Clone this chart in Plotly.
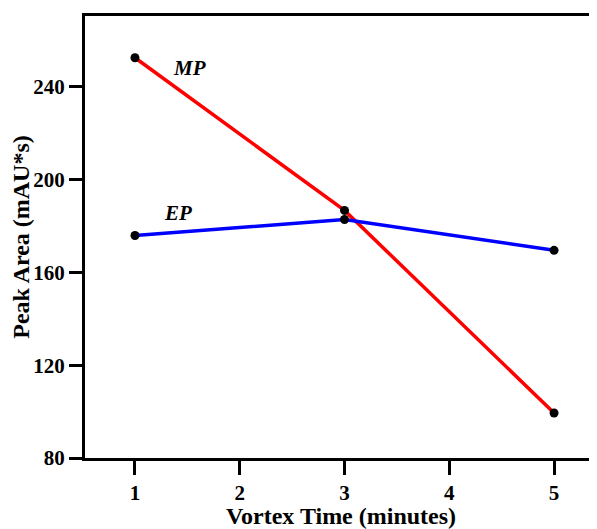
import plotly.graph_objects as go

vortex_time = [1, 3, 5]
mp_area = [252.5, 186.7, 99.4]
ep_area = [175.9, 182.8, 169.5]
x_ticks = [1, 2, 3, 4, 5]
y_ticks = [80, 120, 160, 200, 240]

FONT = "Liberation Serif"

fig = go.Figure()
fig.add_trace(go.Scatter(x=vortex_time, y=mp_area, mode="lines+markers", name="MP",
                         line=dict(color="#ff0000", width=3.5),
                         marker=dict(color="black", size=9)))
fig.add_trace(go.Scatter(x=vortex_time, y=ep_area, mode="lines+markers", name="EP",
                         line=dict(color="#0000ff", width=3.5),
                         marker=dict(color="black", size=9)))

fig.add_annotation(x=1.525, y=248, text="<b><i>MP</i></b>", showarrow=False,
                   font=dict(family=FONT, size=21, color="black"))
fig.add_annotation(x=1.41, y=185.4, text="<b><i>EP</i></b>", showarrow=False,
                   font=dict(family=FONT, size=21, color="black"))

# the page body adds an 8px margin, so the figure is offset by 8px
fig.update_layout(
    width=589, height=521,
    margin=dict(l=77, r=0, t=8, b=71),
    paper_bgcolor="white", plot_bgcolor="white",
    showlegend=False,
    font=dict(family=FONT, color="black"),
    xaxis=dict(range=[0.523, 5.41], tickvals=x_ticks, ticks="outside", ticklen=14,
               tickwidth=3, tickcolor="black", showline=True, linewidth=3,
               linecolor="black", mirror=True, showgrid=False, zeroline=False,
               automargin=False,
               tickfont=dict(family=FONT, size=21, color="black", weight="bold"),
               title=dict(text="<b>Vortex Time (minutes)</b>", standoff=2,
                          font=dict(family=FONT, size=24, color="black"))),
    yaxis=dict(range=[80, 270.5], tickvals=y_ticks, ticks="outside", ticklen=13,
               tickwidth=3, tickcolor="black", showline=True, linewidth=3,
               linecolor="black", showgrid=False, zeroline=False,
               automargin=False,
               tickfont=dict(family=FONT, size=21, color="black", weight="bold"),
               title=dict(text="<b>Peak Area (mAU*s)</b>", standoff=4,
                          font=dict(family=FONT, size=24, color="black"))),
)

fig.write_html("out.html")
